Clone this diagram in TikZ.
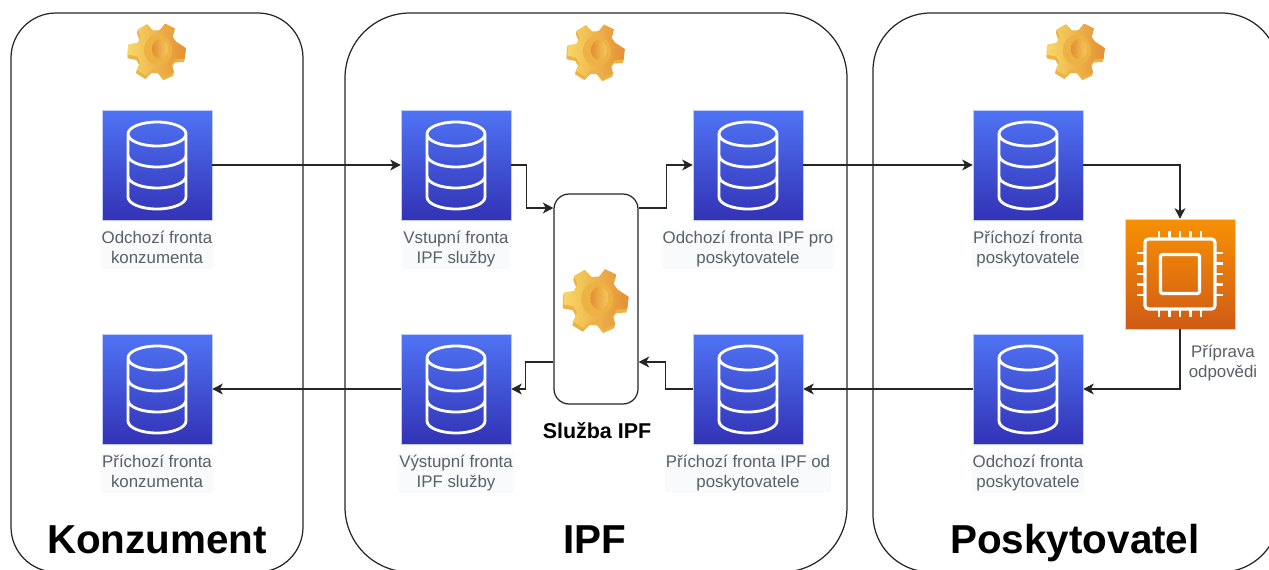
\documentclass[tikz,border=0pt]{standalone}
\usepackage{fontspec}
\setmainfont{Liberation Sans}
\usetikzlibrary{arrows.meta,calc}
\definecolor{dbtop}{HTML}{4F74F5}
\definecolor{dbbot}{HTML}{3332B5}
\definecolor{chiptop}{HTML}{F89005}
\definecolor{chipbot}{HTML}{CF5B16}
\definecolor{lbl}{HTML}{5A6068}
\definecolor{lblbg}{HTML}{F9FAFB}
\definecolor{gearside}{HTML}{EDB243}
\definecolor{gearl}{HTML}{F8D765}
\definecolor{gearr}{HTML}{E48F33}
\definecolor{gearh}{HTML}{E9A53A}
\definecolor{gearc}{HTML}{F4C95C}
\newcommand{\twolines}[2]{\rule{0pt}{7.2pt}#1\\#2\rule[-2.5pt]{0pt}{2.5pt}}
\newcommand{\gearpoly}{%
  (-4:29) -- (18:29) -- (27:21) -- (45:21) -- (54:29) -- (76:29) -- (85:21) -- (103:21) -- (112:29)
  -- (134:29) -- (143:21) -- (161:21) -- (170:29) -- (192:29) -- (201:21) -- (219:21) -- (228:29)
  -- (250:29) -- (259:21) -- (277:21) -- (286:29) -- (308:29) -- (317:21) -- (335:21) -- cycle}
\tikzset{
  panel/.style={draw=black!85,line width=0.7pt,fill=white},
  dbbox/.style={rectangle,minimum size=2.2cm,inner sep=0pt,top color=dbtop,bottom color=dbbot,draw=dbtop!35!white,line width=0.3pt},
  chipbox/.style={rectangle,minimum size=2.2cm,inner sep=0pt,top color=chiptop,bottom color=chipbot,draw=chiptop!40!white,line width=0.3pt},
  iconline/.style={draw=white,line width=1.6pt},
  lab/.style={align=center,font=\fontsize{9.6}{11.3}\selectfont,text=lbl,fill=lblbg,inner sep=0.6pt},
  title/.style={font=\bfseries\fontsize{23}{26}\selectfont,text=black,inner sep=0pt,anchor=base},
  svc/.style={draw=black!85,line width=0.7pt,fill=white,rounded corners=0.3cm,rectangle,minimum width=1.68cm,minimum height=4.2cm,inner sep=0pt},
  conn/.style={draw=black!85,line width=0.75pt,-{Stealth[length=6pt,width=6.2pt,inset=1.7pt]}},
  dbicon/.pic={
    \path[iconline]
      (-29,-31) arc[x radius=29,y radius=12,start angle=180,end angle=-180]
      (-29,-31) -- (-29,32) arc[x radius=29,y radius=12,start angle=180,end angle=0] -- (29,-31)
      (-29,-10) arc[x radius=29,y radius=12,start angle=180,end angle=0]
      (-29,11) arc[x radius=29,y radius=12,start angle=180,end angle=0];
  },
  chipicon/.pic={
    \path[iconline,line width=1.8pt,rounded corners=2pt] (-35,-35) rectangle (35,35);
    \path[iconline,line width=1.8pt,rounded corners=1.2pt] (-19.5,-19.5) rectangle (19.5,19.5);
    \foreach \p in {-21,-10.5,0,10.5,21}{
      \path[iconline,line width=1.6pt] (\p,-35) -- (\p,-43) (\p,35) -- (\p,43) (-35,\p) -- (-43,\p) (35,\p) -- (43,\p);
    }
  },
  gearicon/.pic={
    \begin{scope}[rotate=0,yscale=0.95]
      \foreach \o in {4,3,2,1}{
        \fill[gearside,yshift=\o*-0.018cm,xshift=\o*-0.004cm] \gearpoly;
      }
      \shade[left color=gearl,right color=gearr] \gearpoly;
      \fill[gearside] (1,0) ellipse[x radius=14,y radius=16];
      \shade[left color=gearr,right color=gearc] (3,-1) ellipse[x radius=8,y radius=10.5];
    \end{scope}
  }
}
\begin{document}
\begin{tikzpicture}[x=0.02cm,y=-0.02cm]
\useasboundingbox (0,0) rectangle (1269,569);
\clip (0,0) rectangle (1269,569);
% panels
\path[panel,rounded corners=0.9cm] (11,13) rectangle (303,572);
\path[panel,rounded corners=1.3cm] (345,13) rectangle (847,572);
\path[panel,rounded corners=1.15cm] (873,13) rectangle (1279,572);
% gears
\pic at (157,50) {gearicon};
\pic at (596,51) {gearicon};
\pic at (1076,50) {gearicon};
% queues
\node[dbbox] (ko) at (157,165) {};
\node[dbbox] (kp) at (157,389) {};
\node[dbbox] (vs) at (456,165) {};
\node[dbbox] (vy) at (456,389) {};
\node[dbbox] (io) at (748,165) {};
\node[dbbox] (ip) at (748,389) {};
\node[dbbox] (pp) at (1028,165) {};
\node[dbbox] (po) at (1028,389) {};
\foreach \n in {ko,kp,vs,vy,io,ip,pp,po}{\pic at (\n) {dbicon};}
\node[chipbox] (chip) at (1180,274) {};
\pic at (chip) {chipicon};
% service
\node[svc] (svc) at (596,299) {};
\pic[scale=1.13] at (596,299) {gearicon};
% labels
\node[lab] (lko) at (157,249) {\twolines{Odchozí fronta}{konzumenta}};
\node[lab] (lkp) at (157,473) {\twolines{Příchozí fronta}{konzumenta}};
\node[lab] (lvs) at (456,249) {\twolines{Vstupní fronta}{IPF služby}};
\node[lab] (lvy) at (456,473) {\twolines{Výstupní fronta}{IPF služby}};
\node[lab] (lio) at (748,249) {\twolines{Odchozí fronta IPF pro}{poskytovatele}};
\node[lab] (lip) at (748,473) {\twolines{Příchozí fronta IPF od}{poskytovatele}};
\node[lab] (lpp) at (1028,249) {\twolines{Příchozí fronta}{poskytovatele}};
\node[lab] (lpo) at (1028,473) {\twolines{Odchozí fronta}{poskytovatele}};
\node[lab,fill=none] (lch) at (1223,363) {\twolines{Příprava}{odpovědi}};
\node[font=\bfseries\fontsize{12.2}{14}\selectfont,inner sep=0pt,anchor=base] (lsvc) at (597,438) {Služba IPF};
\node[title] (t1) at (157,553) {Konzument};
\node[title] (t2) at (595,553) {IPF};
\node[title] (t3) at (1075,553) {Poskytovatel};
% anchors on the service box
\coordinate (sLt) at (svc.west |- 0,208);
\coordinate (sRt) at (svc.east |- 0,208);
\coordinate (sLb) at (svc.west |- 0,362);
\coordinate (sRb) at (svc.east |- 0,362);
% connectors
\draw[conn] (ko) -- (vs);
\draw[conn] (vs.east) -- ++(15.5,0) |- (sLt);
\draw[conn] (sRt) -- ++(28,0) |- (io.west);
\draw[conn] (io) -- (pp);
\draw[conn] (pp.east) -| (chip.north);
\draw[conn] (chip.south) |- (po.east);
\draw[conn] (po) -- (ip);
\draw[conn] (ip.west) -- ++(-27,0) |- (sRb);
\draw[conn] (sLb) -- ++(-28,0) |- (vy.east);
\draw[conn] (vy) -- (kp);
\end{tikzpicture}
\end{document}
